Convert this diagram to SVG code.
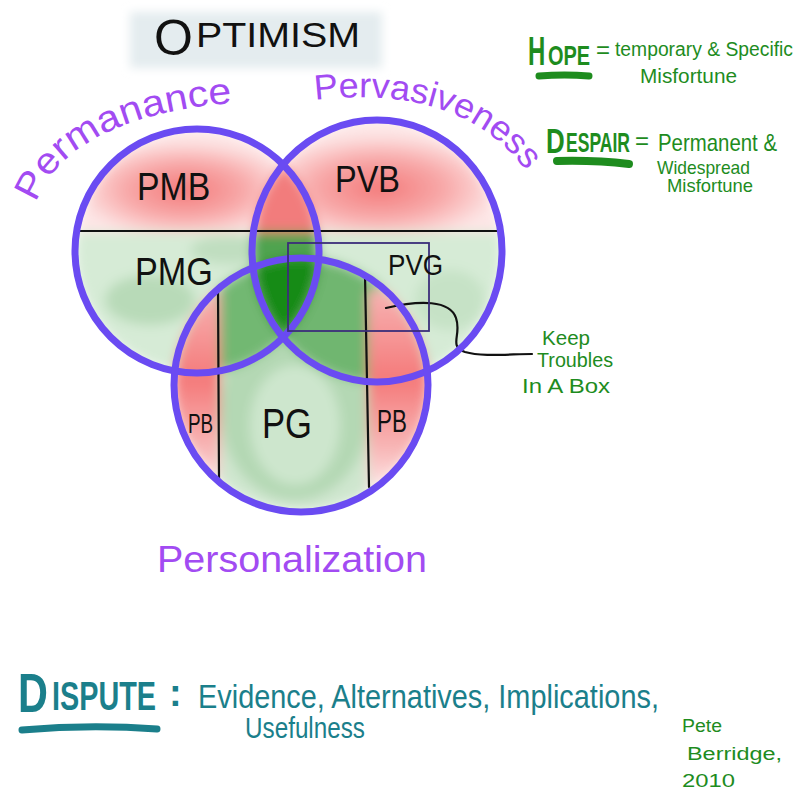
<svg xmlns="http://www.w3.org/2000/svg" width="807" height="792" viewBox="0 0 807 792">
<style>
  .lbl { font-family: "Liberation Sans", Arial, sans-serif; fill: #111; }
  .pur { font-family: "Liberation Sans", Arial, sans-serif; fill: #a24bf2; }
  .grn { font-family: "Liberation Sans", Arial, sans-serif; fill: #1e8c1e; }
  .teal { font-family: "Liberation Sans", Arial, sans-serif; fill: #1b7f8b; }
  .b { font-weight: bold; }
  .ring { fill: none; stroke: #6a4bf2; stroke-width: 7; }
  .blk { fill: none; stroke: #111; stroke-width: 2.2; stroke-linecap: round; }
</style>
<defs>
  <clipPath id="c1"><circle cx="197" cy="251" r="122"/></clipPath>
  <clipPath id="c2"><ellipse cx="377" cy="251" rx="125" ry="131"/></clipPath>
  <clipPath id="c3"><circle cx="301" cy="385" r="127"/></clipPath>
  <clipPath id="u">
    <circle cx="197" cy="251" r="125"/>
    <ellipse cx="377" cy="251" rx="128" ry="134"/>
    <circle cx="301" cy="385" r="130"/>
  </clipPath>
  <filter id="blur" x="-20%" y="-20%" width="140%" height="140%"><feGaussianBlur stdDeviation="6"/></filter>
  <filter id="soft" x="-20%" y="-40%" width="140%" height="180%"><feGaussianBlur stdDeviation="5"/></filter>
  <radialGradient id="r1" gradientUnits="userSpaceOnUse" cx="185" cy="190" r="110" gradientTransform="translate(185 190) scale(1 0.45) translate(-185 -190)">
    <stop offset="0" stop-color="#f37a7a"/><stop offset="0.55" stop-color="#f8aaaa"/><stop offset="1" stop-color="#fde6e6"/>
  </radialGradient>
  <radialGradient id="r2" gradientUnits="userSpaceOnUse" cx="380" cy="188" r="120" gradientTransform="translate(380 188) scale(1 0.45) translate(-380 -188)">
    <stop offset="0" stop-color="#f37a7a"/><stop offset="0.55" stop-color="#f8aaaa"/><stop offset="1" stop-color="#fde6e6"/>
  </radialGradient>
  <linearGradient id="strip" gradientUnits="userSpaceOnUse" x1="0" y1="290" x2="0" y2="490">
    <stop offset="0" stop-color="#f7b3b3"/><stop offset="0.45" stop-color="#f47a7a"/><stop offset="0.8" stop-color="#f8b8b8"/><stop offset="1" stop-color="#fde8e8"/>
  </linearGradient>
</defs>

<rect width="807" height="792" fill="#fff"/>

<!-- title wash -->
<rect x="130" y="12" width="252" height="56" fill="#e4ecef" filter="url(#soft)"/>

<g id="fills" clip-path="url(#u)">
  <g filter="url(#blur)">
    <g clip-path="url(#c1)">
      <rect x="60" y="110" width="280" height="122" fill="url(#r1)"/>
      <rect x="60" y="232" width="280" height="160" fill="#d6ebd6"/>
      <ellipse cx="150" cy="300" rx="45" ry="25" fill="#b8dab8"/>
      <ellipse cx="230" cy="250" rx="40" ry="14" fill="#c0dec0"/>
    </g>
    <g clip-path="url(#c2)">
      <rect x="240" y="110" width="280" height="122" fill="url(#r2)"/>
      <rect x="240" y="232" width="280" height="160" fill="#d6ebd6"/>
      <ellipse cx="450" cy="300" rx="35" ry="30" fill="#c6e2c6"/>
    </g>
    <g clip-path="url(#c3)">
      <rect x="170" y="250" width="265" height="270" fill="#cfe6cf"/>
      <ellipse cx="295" cy="410" rx="75" ry="90" fill="#b4d8b4"/>
      <ellipse cx="295" cy="425" rx="45" ry="60" fill="#cde6cd"/>
    </g>
    <g clip-path="url(#c1)"><g clip-path="url(#c2)">
      <rect x="240" y="150" width="90" height="82" fill="#f27b7b"/>
      <rect x="240" y="232" width="90" height="110" fill="#4fa34f"/>
    </g></g>
    <g clip-path="url(#c1)"><g clip-path="url(#c3)">
      <rect x="170" y="250" width="160" height="130" fill="#72b872"/>
    </g></g>
    <g clip-path="url(#c2)"><g clip-path="url(#c3)">
      <rect x="250" y="250" width="190" height="140" fill="#6fb66f"/>
    </g></g>
    <g clip-path="url(#c3)">
      <rect x="165" y="290" width="55" height="210" fill="url(#strip)"/>
      <rect x="368" y="290" width="70" height="210" fill="url(#strip)"/>
    </g>
    <g clip-path="url(#c1)"><g clip-path="url(#c2)"><g clip-path="url(#c3)">
      <rect x="240" y="250" width="90" height="100" fill="#148b14"/>
    </g></g></g>
  </g>
</g>

<g id="connectors">
  <line class="blk" x1="78" y1="231" x2="499" y2="231"/>
  <line class="blk" x1="218" y1="288" x2="219" y2="479"/>
  <line class="blk" x1="365" y1="275" x2="369" y2="487"/>
  <path class="blk" stroke-width="2.6" d="M386,308 C420,300 450,300 456,318 C462,335 448,346 465,352 C482,357 510,354 532,354"/>
</g>

<g id="permanence">
  <circle class="ring" cx="197" cy="251" r="122"/>
  <path id="arcPm" d="M36,203 C55,150 120,112 232,103" fill="none"/>
  <text class="pur" font-size="37"><textPath href="#arcPm" textLength="232" lengthAdjust="spacingAndGlyphs">Permanance</textPath></text>
</g>
<g id="pervasiveness">
  <ellipse class="ring" cx="377" cy="251" rx="125" ry="131"/>
  <path id="arcPv" d="M315,100 C400,90 476,106 524,168" fill="none"/>
  <text class="pur" font-size="35"><textPath href="#arcPv" textLength="234" lengthAdjust="spacingAndGlyphs">Pervasiveness</textPath></text>
</g>
<g id="personalization">
  <circle class="ring" cx="301" cy="385" r="127"/>
  <text class="pur" x="157" y="572" font-size="36" textLength="270" lengthAdjust="spacingAndGlyphs">Personalization</text>
</g>

<g id="box">
  <rect x="288" y="243" width="141" height="88" fill="none" stroke="#3b2e7a" stroke-width="1.8"/>
</g>

<g id="region-labels">
  <text class="lbl" transform="translate(137 200) scale(0.89 1)" font-size="38">PMB</text>
  <text class="lbl" x="335" y="192" font-size="37" textLength="65" lengthAdjust="spacingAndGlyphs">PVB</text>
  <text class="lbl" transform="translate(135 285) scale(0.9 1)" font-size="38">PMG</text>
  <text class="lbl" transform="translate(388 275) scale(0.87 1)" font-size="30">PVG</text>
  <text class="lbl" x="262" y="438" font-size="42" textLength="50" lengthAdjust="spacingAndGlyphs">PG</text>
  <text class="lbl" transform="translate(188 433) scale(0.7 1)" font-size="27">PB</text>
  <text class="lbl" transform="translate(377 432) scale(0.7 1)" font-size="32">PB</text>
</g>

<g id="title">
  <text class="lbl"><tspan x="154" y="55" font-size="50">O</tspan><tspan x="196" y="47" font-size="35" textLength="164" lengthAdjust="spacingAndGlyphs">PTIMISM</tspan></text>
</g>

<g id="hope">
  <text class="grn b" transform="translate(528 65) scale(0.6 1)" font-size="40">H</text>
  <text class="grn b" transform="translate(548 65) scale(0.74 1)" font-size="27">OPE</text>
  <path d="M539,76 Q565,74 589,76" fill="none" stroke="#1e8c1e" stroke-width="7" stroke-linecap="round"/>
  <text class="grn" x="596" y="58" font-size="24">=</text>
  <text class="grn" x="615" y="56" font-size="20" textLength="178" lengthAdjust="spacingAndGlyphs">temporary &amp; Specific</text>
  <text class="grn" x="640" y="83" font-size="20" textLength="97" lengthAdjust="spacingAndGlyphs">Misfortune</text>
</g>

<g id="despair">
  <text class="grn b" transform="translate(546 153) scale(0.72 1)" font-size="36">D</text>
  <text class="grn b" transform="translate(566 152) scale(0.65 1)" font-size="27">ESPAIR</text>
  <path d="M557,161 Q595,160 629,164" fill="none" stroke="#1e8c1e" stroke-width="8" stroke-linecap="round"/>
  <text class="grn" x="635" y="149" font-size="24">=</text>
  <text class="grn" x="658" y="151" font-size="24" textLength="119" lengthAdjust="spacingAndGlyphs">Permanent &amp;</text>
  <text class="grn" x="657" y="174" font-size="19" textLength="93" lengthAdjust="spacingAndGlyphs">Widespread</text>
  <text class="grn" x="667" y="192" font-size="19" textLength="86" lengthAdjust="spacingAndGlyphs">Misfortune</text>
</g>

<g id="keep-note">
  <text class="grn" x="542" y="345" font-size="20" textLength="48" lengthAdjust="spacingAndGlyphs">Keep</text>
  <text class="grn" x="537" y="367" font-size="20" textLength="76" lengthAdjust="spacingAndGlyphs">Troubles</text>
  <text class="grn" x="522" y="393" font-size="21" textLength="88" lengthAdjust="spacingAndGlyphs">In A Box</text>
</g>

<g id="dispute">
  <text class="teal b" transform="translate(18 712) scale(0.74 1)" font-size="56">D</text>
  <text class="teal b" transform="translate(52 710) scale(0.72 1)" font-size="40">ISPUTE</text>
  <path d="M22,730 Q90,724 157,729" fill="none" stroke="#1b7f8b" stroke-width="7" stroke-linecap="round"/>
  <text class="teal b" x="169" y="706" font-size="38">:</text>
  <text class="teal" transform="translate(198 708) scale(0.85 1)" font-size="34">Evidence, Alternatives, Implications,</text>
  <text class="teal" x="245" y="738" font-size="30" textLength="120" lengthAdjust="spacingAndGlyphs">Usefulness</text>
</g>

<g id="signature">
  <text class="grn" x="682" y="732" font-size="18" textLength="40" lengthAdjust="spacingAndGlyphs">Pete</text>
  <text class="grn" x="687" y="760" font-size="18" textLength="95" lengthAdjust="spacingAndGlyphs">Berridge,</text>
  <text class="grn" x="682" y="787" font-size="19" textLength="53" lengthAdjust="spacingAndGlyphs">2010</text>
</g>
</svg>
